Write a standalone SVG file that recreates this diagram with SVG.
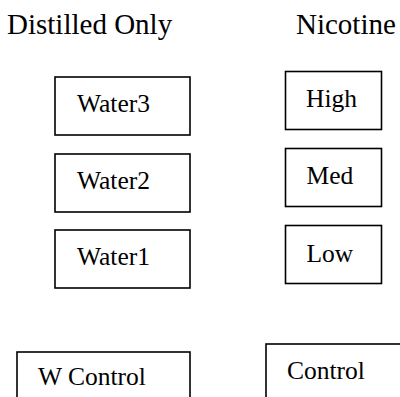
<svg xmlns="http://www.w3.org/2000/svg" width="400" height="397" viewBox="0 0 400 397">
<style>
text{font-family:"Times New Roman","Liberation Serif",Times,Tinos,"Noto Serif","DejaVu Serif",FreeSerif,serif;fill:#000}
.h{font-size:29px}
.l{font-size:25.5px}
.b{fill:#fff;stroke:#000;stroke-width:1.6}
</style>
<rect x="0" y="0" width="400" height="397" fill="#fff"/>
<g id="hdr-distilled"><text class="h" x="7" y="34">Distilled Only</text></g>
<g id="hdr-nicotine"><text class="h" x="296" y="34">Nicotine</text></g>
<g id="water3"><rect class="b" x="55" y="77" width="135" height="58"/><text class="l" x="77" y="112">Water3</text></g>
<g id="water2"><rect class="b" x="55" y="154" width="135" height="58"/><text class="l" x="77" y="188.5">Water2</text></g>
<g id="water1"><rect class="b" x="55" y="230" width="135" height="58"/><text class="l" x="77" y="265">Water1</text></g>
<g id="wcontrol"><rect class="b" x="17" y="352" width="173" height="58"/><text class="l" x="38" y="385">W Control</text></g>
<g id="high"><rect class="b" x="285.5" y="71.5" width="96" height="58"/><text class="l" x="306" y="107">High</text></g>
<g id="med"><rect class="b" x="285.5" y="148.5" width="96" height="58"/><text class="l" x="306.5" y="183.5">Med</text></g>
<g id="low"><rect class="b" x="285.5" y="225.5" width="96" height="58"/><text class="l" x="306.5" y="261.5">Low</text></g>
<g id="control"><rect class="b" x="266" y="344" width="150" height="58"/><text class="l" x="287" y="378.5">Control</text></g>
<g id="connectors"></g>
</svg>
